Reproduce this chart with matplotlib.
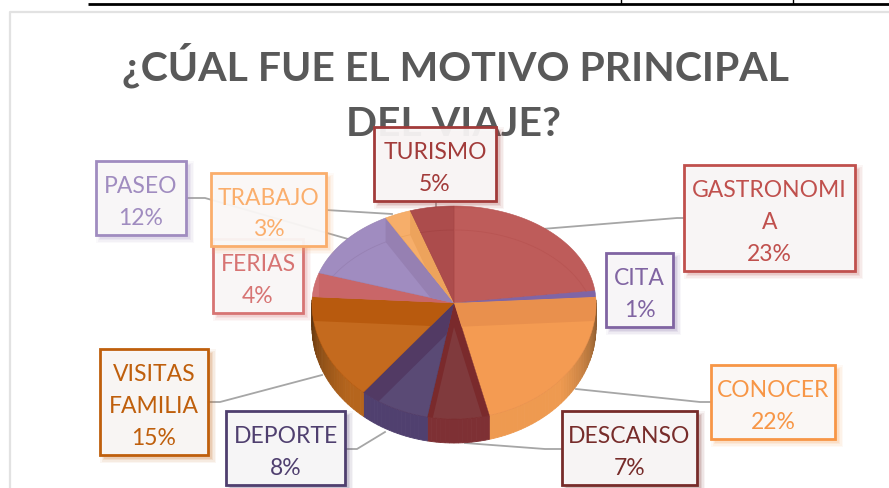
import numpy as np
import matplotlib
matplotlib.use("Agg")
import matplotlib.pyplot as plt
from matplotlib.patches import Polygon, Rectangle

plt.rcParams['font.family'] = ['Lato', 'DejaVu Sans']

categories = ["GASTRONOMIA", "CITA", "CONOCER", "DESCANSO", "DEPORTE",
              "VISITAS FAMILIA", "FERIAS", "PASEO", "TRABAJO", "TURISMO"]
values = [23, 1, 22, 7, 8, 15, 4, 12, 3, 5]
label_lines = ["GASTRONOMI\nA", "CITA", "CONOCER", "DESCANSO", "DEPORTE",
               "VISITAS\nFAMILIA", "FERIAS", "PASEO", "TRABAJO", "TURISMO"]
title_lines = ["¿CÚAL FUE EL MOTIVO PRINCIPAL", "DEL VIAJE?"]

light = ['#BE5C5A', '#7F65A6', '#F49B52', '#803A3D', '#5A4A75',
         '#C46A1E', '#CF7173', '#A08CC0', '#F6AE6A', '#AC4C4C']
band = ['#B85452', '#7F65A6', '#E9904D', '#7A2A2C', '#523A64',
        '#B85A0E', '#C96668', '#9680B2', '#EDA35C', '#A44444']
wall = ['#9C4543', '#6A5390', '#EE9A50', '#7E3034', '#50406F',
        '#B5651D', '#B05A5A', '#86709F', '#D8905A', '#8A3A3A']
border = ['#C0504D', '#8064A2', '#F79646', '#772C2A', '#4F3F6F',
          '#BF5F0C', '#D77473', '#A08CC0', '#FAAE6C', '#A23B3A']

boxes = [(684, 166, 855, 272), (606, 254, 673, 328), (711, 366, 835, 440),
         (562, 412, 697, 486), (226, 412, 345, 486), (100, 350, 208, 456),
         (213, 240, 303, 314), (96, 162, 186, 236), (211, 174, 326, 247),
         (374, 128, 496, 202)]
leaders = [[(542, 230), (677, 219), (684, 219)],
           [(576, 390), (700, 403), (711, 403)],
           [(465, 444), (545, 450), (562, 450)],
           [(385, 433), (357, 450), (345, 450)],
           [(322, 376), (220, 403), (208, 403)],
           [(186, 199), (205, 199), (348, 240)],
           [(326, 211), (392, 215)],
           [(436, 202), (436, 208)]]

CX, CY, RX, RY_UP, RY_DOWN, DEPTH = 454, 304, 142, 97, 116, 24

fig = plt.figure(figsize=(8.89, 4.89), dpi=100)
ax = fig.add_axes([0, 0, 1, 1])
ax.set_xlim(0, 889)
ax.set_ylim(489, 0)
ax.axis('off')


def rim(angles, dy=0):
    s, c = np.sin(angles), np.cos(angles)
    x = CX + RX * s
    y = CY - np.where(c > 0, RY_UP, RY_DOWN) * c + dy
    return np.column_stack([x, y])


# page furniture
ax.plot([88, 889], [4.5, 4.5], color='black', lw=2, solid_capstyle='butt')
for vx in (621, 793):
    ax.plot([vx, vx], [0, 4], color='black', lw=1)
ax.plot([9.5, 9.5, 889], [489, 13, 13], color='#E2E2E2', lw=1.6)

# title
ax.text(455, 65, title_lines[0], ha='center', va='center', fontsize=29.5,
        fontweight='bold', color='#595959', zorder=1)
ax.text(453, 124, title_lines[1], ha='center', va='center', fontsize=29.5,
        fontweight='bold', color='#595959', zorder=1)

# leader lines
for pts in leaders:
    xs, ys = zip(*pts)
    ax.plot(xs, ys, color='#A6A6A6', lw=1.3, zorder=2)

# pie
bounds = np.cumsum([0] + values) / sum(values) * 2 * np.pi

# outer wall first
for i in range(len(values)):
    a0, a1 = bounds[i], bounds[i + 1]
    n = max(2, int((a1 - a0) / 0.03))
    t = np.linspace(a0, a1, n + 1)
    rgb = np.array(matplotlib.colors.to_rgb(wall[i]))
    for j in range(n):
        am = (t[j] + t[j + 1]) / 2
        if np.cos(am) > 0.02:
            continue
        shade = 0.55 + 0.45 * min(1.0, -np.cos(am) * 1.5)
        seg = np.linspace(t[j], t[j + 1], 3)
        top = rim(seg)
        bot = rim(seg, DEPTH)
        ax.add_patch(Polygon(np.vstack([top, bot[::-1]]), closed=True,
                             fc=rgb * shade, ec=rgb * shade, lw=0.6, zorder=3))

# slices
for i in range(len(values)):
    t = np.linspace(bounds[i], bounds[i + 1], max(3, int(values[i] * 3)))
    rim_pts = rim(t)
    outline = np.vstack([[CX, CY], rim_pts])
    base = Polygon(outline, closed=True, fc=light[i], ec=band[i], lw=0.4, zorder=4)
    ax.add_patch(base)
    apex = np.array([CX, CY])
    drop = np.array([0, DEPTH])
    # inner walls seen through the translucent top
    for p in (rim_pts[0], rim_pts[-1]):
        quad = Polygon([apex, p, p + drop, apex + drop], closed=True,
                       fc=band[i], ec='none', zorder=5)
        ax.add_patch(quad)
        quad.set_clip_path(base)
    # faint lower rim
    lower, = ax.plot(rim_pts[:, 0], rim_pts[:, 1] + DEPTH, color=band[i], lw=0.6,
                     alpha=0.9, zorder=6)
    lower.set_clip_path(base)

# label boxes
for i in range(len(values)):
    x0, y0, x1, y1 = boxes[i]
    w, h = x1 - x0, y1 - y0
    z = 10 + i * 0.1
    if categories[i] == "FERIAS":
        z = 9
    for grow, alpha in ((4, 0.05), (2.5, 0.07), (1, 0.10), (0, 0.12)):
        ax.add_patch(Rectangle((x0 + 4 - grow, y0 + 4 - grow), w + 2 * grow, h + 2 * grow,
                               fc=border[i], ec='none', alpha=alpha, zorder=z))
    ax.add_patch(Rectangle((x0, y0), w, h, fc='#FAF9F9', ec='none', alpha=0.93, zorder=z))
    ax.add_patch(Rectangle((x0, y0), w, h, fc='none', ec=border[i], lw=2.0, zorder=z))
    ax.text((x0 + x1) / 2, (y0 + y1) / 2 + 3.5,
            f"{label_lines[i]}\n{values[i]}%", ha='center', va='center',
            fontsize=16.5, color=border[i], linespacing=1.62, zorder=z + 0.01)

fig.savefig("out.png", dpi=100)
